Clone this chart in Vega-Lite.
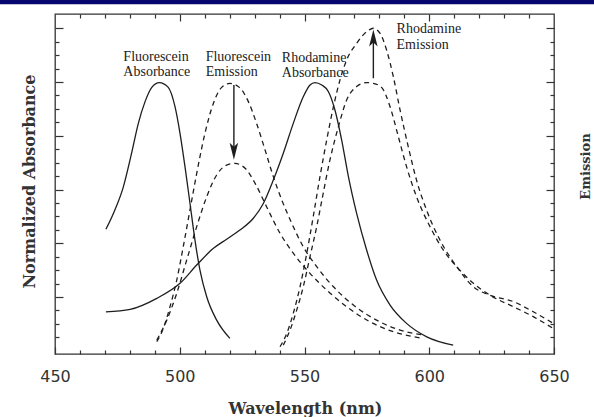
{
  "$schema": "https://vega.github.io/schema/vega-lite/v6.json",
  "width": 499,
  "height": 340,
  "autosize": {"type": "none"},
  "padding": {"left": 55, "top": 14, "right": 40, "bottom": 63},
  "background": "white",
  "config": {
    "view": {"stroke": "#333333", "strokeWidth": 1.3},
    "axis": {"grid": false, "domain": false, "tickColor": "#333333", "tickWidth": 1.2, "titleFont": "DejaVu Serif", "titleFontWeight": "bold", "titleColor": "#333333"}
  },
  "datasets": {
    "curves": [
      {"c": "FA", "s": "solid", "nm": 470.4, "v": 0.452},
      {"c": "FA", "s": "solid", "nm": 473.4, "v": 0.511},
      {"c": "FA", "s": "solid", "nm": 477.4, "v": 0.610},
      {"c": "FA", "s": "solid", "nm": 480.7, "v": 0.735},
      {"c": "FA", "s": "solid", "nm": 483.4, "v": 0.846},
      {"c": "FA", "s": "solid", "nm": 486.1, "v": 0.927},
      {"c": "FA", "s": "solid", "nm": 488.8, "v": 0.980},
      {"c": "FA", "s": "solid", "nm": 491.8, "v": 0.998},
      {"c": "FA", "s": "solid", "nm": 495.4, "v": 0.980},
      {"c": "FA", "s": "solid", "nm": 498.1, "v": 0.908},
      {"c": "FA", "s": "solid", "nm": 500.1, "v": 0.809},
      {"c": "FA", "s": "solid", "nm": 502.1, "v": 0.685},
      {"c": "FA", "s": "solid", "nm": 504.1, "v": 0.549},
      {"c": "FA", "s": "solid", "nm": 506.1, "v": 0.412},
      {"c": "FA", "s": "solid", "nm": 508.1, "v": 0.300},
      {"c": "FA", "s": "solid", "nm": 510.8, "v": 0.201},
      {"c": "FA", "s": "solid", "nm": 514.8, "v": 0.114},
      {"c": "FA", "s": "solid", "nm": 520.1, "v": 0.046},
      {"c": "RA", "s": "solid", "nm": 470.4, "v": 0.145},
      {"c": "RA", "s": "solid", "nm": 480.1, "v": 0.154},
      {"c": "RA", "s": "solid", "nm": 490.8, "v": 0.195},
      {"c": "RA", "s": "solid", "nm": 500.1, "v": 0.251},
      {"c": "RA", "s": "solid", "nm": 506.8, "v": 0.319},
      {"c": "RA", "s": "solid", "nm": 513.5, "v": 0.381},
      {"c": "RA", "s": "solid", "nm": 518.8, "v": 0.415},
      {"c": "RA", "s": "solid", "nm": 524.1, "v": 0.449},
      {"c": "RA", "s": "solid", "nm": 529.5, "v": 0.493},
      {"c": "RA", "s": "solid", "nm": 533.5, "v": 0.548},
      {"c": "RA", "s": "solid", "nm": 537.5, "v": 0.635},
      {"c": "RA", "s": "solid", "nm": 541.5, "v": 0.735},
      {"c": "RA", "s": "solid", "nm": 545.5, "v": 0.846},
      {"c": "RA", "s": "solid", "nm": 549.5, "v": 0.945},
      {"c": "RA", "s": "solid", "nm": 552.2, "v": 0.989},
      {"c": "RA", "s": "solid", "nm": 554.2, "v": 0.998},
      {"c": "RA", "s": "solid", "nm": 556.9, "v": 0.989},
      {"c": "RA", "s": "solid", "nm": 559.6, "v": 0.964},
      {"c": "RA", "s": "solid", "nm": 562.2, "v": 0.896},
      {"c": "RA", "s": "solid", "nm": 564.9, "v": 0.784},
      {"c": "RA", "s": "solid", "nm": 567.6, "v": 0.648},
      {"c": "RA", "s": "solid", "nm": 570.9, "v": 0.511},
      {"c": "RA", "s": "solid", "nm": 574.9, "v": 0.375},
      {"c": "RA", "s": "solid", "nm": 578.9, "v": 0.263},
      {"c": "RA", "s": "solid", "nm": 584.3, "v": 0.170},
      {"c": "RA", "s": "solid", "nm": 590.9, "v": 0.102},
      {"c": "RA", "s": "solid", "nm": 599.0, "v": 0.052},
      {"c": "RA", "s": "solid", "nm": 609.6, "v": 0.021},
      {"c": "FEhi", "s": "dash", "nm": 490.8, "v": 0.034},
      {"c": "FEhi", "s": "dash", "nm": 493.4, "v": 0.083},
      {"c": "FEhi", "s": "dash", "nm": 496.1, "v": 0.164},
      {"c": "FEhi", "s": "dash", "nm": 498.8, "v": 0.263},
      {"c": "FEhi", "s": "dash", "nm": 501.4, "v": 0.387},
      {"c": "FEhi", "s": "dash", "nm": 504.1, "v": 0.524},
      {"c": "FEhi", "s": "dash", "nm": 506.8, "v": 0.660},
      {"c": "FEhi", "s": "dash", "nm": 510.1, "v": 0.809},
      {"c": "FEhi", "s": "dash", "nm": 513.5, "v": 0.921},
      {"c": "FEhi", "s": "dash", "nm": 516.8, "v": 0.980},
      {"c": "FEhi", "s": "dash", "nm": 520.1, "v": 0.995},
      {"c": "FEhi", "s": "dash", "nm": 523.9, "v": 0.980},
      {"c": "FEhi", "s": "dash", "nm": 527.5, "v": 0.927},
      {"c": "FEhi", "s": "dash", "nm": 530.8, "v": 0.846},
      {"c": "FEhi", "s": "dash", "nm": 534.2, "v": 0.747},
      {"c": "FEhi", "s": "dash", "nm": 537.5, "v": 0.648},
      {"c": "FEhi", "s": "dash", "nm": 540.9, "v": 0.561},
      {"c": "FEhi", "s": "dash", "nm": 544.9, "v": 0.474},
      {"c": "FEhi", "s": "dash", "nm": 549.5, "v": 0.387},
      {"c": "FEhi", "s": "dash", "nm": 554.9, "v": 0.313},
      {"c": "FEhi", "s": "dash", "nm": 561.6, "v": 0.238},
      {"c": "FEhi", "s": "dash", "nm": 569.6, "v": 0.170},
      {"c": "FEhi", "s": "dash", "nm": 578.9, "v": 0.114},
      {"c": "FEhi", "s": "dash", "nm": 588.3, "v": 0.077},
      {"c": "FEhi", "s": "dash", "nm": 597.6, "v": 0.059},
      {"c": "FElo", "s": "dash", "nm": 490.8, "v": 0.040},
      {"c": "FElo", "s": "dash", "nm": 494.8, "v": 0.114},
      {"c": "FElo", "s": "dash", "nm": 498.8, "v": 0.214},
      {"c": "FElo", "s": "dash", "nm": 502.8, "v": 0.338},
      {"c": "FElo", "s": "dash", "nm": 506.8, "v": 0.462},
      {"c": "FElo", "s": "dash", "nm": 510.8, "v": 0.573},
      {"c": "FElo", "s": "dash", "nm": 514.8, "v": 0.654},
      {"c": "FElo", "s": "dash", "nm": 518.8, "v": 0.691},
      {"c": "FElo", "s": "dash", "nm": 522.1, "v": 0.697},
      {"c": "FElo", "s": "dash", "nm": 526.2, "v": 0.679},
      {"c": "FElo", "s": "dash", "nm": 530.2, "v": 0.623},
      {"c": "FElo", "s": "dash", "nm": 534.8, "v": 0.536},
      {"c": "FElo", "s": "dash", "nm": 540.2, "v": 0.437},
      {"c": "FElo", "s": "dash", "nm": 545.5, "v": 0.363},
      {"c": "FElo", "s": "dash", "nm": 552.2, "v": 0.288},
      {"c": "FElo", "s": "dash", "nm": 558.9, "v": 0.226},
      {"c": "FElo", "s": "dash", "nm": 566.9, "v": 0.164},
      {"c": "FElo", "s": "dash", "nm": 576.2, "v": 0.108},
      {"c": "FElo", "s": "dash", "nm": 585.6, "v": 0.071},
      {"c": "FElo", "s": "dash", "nm": 597.6, "v": 0.046},
      {"c": "RElo", "s": "dash", "nm": 541.5, "v": 0.021},
      {"c": "RElo", "s": "dash", "nm": 544.2, "v": 0.077},
      {"c": "RElo", "s": "dash", "nm": 546.9, "v": 0.152},
      {"c": "RElo", "s": "dash", "nm": 549.5, "v": 0.238},
      {"c": "RElo", "s": "dash", "nm": 552.2, "v": 0.350},
      {"c": "RElo", "s": "dash", "nm": 554.9, "v": 0.462},
      {"c": "RElo", "s": "dash", "nm": 557.5, "v": 0.586},
      {"c": "RElo", "s": "dash", "nm": 560.2, "v": 0.710},
      {"c": "RElo", "s": "dash", "nm": 563.6, "v": 0.834},
      {"c": "RElo", "s": "dash", "nm": 566.9, "v": 0.933},
      {"c": "RElo", "s": "dash", "nm": 570.9, "v": 0.983},
      {"c": "RElo", "s": "dash", "nm": 574.9, "v": 0.998},
      {"c": "RElo", "s": "dash", "nm": 577.6, "v": 0.995},
      {"c": "RElo", "s": "dash", "nm": 580.9, "v": 0.980},
      {"c": "RElo", "s": "dash", "nm": 584.3, "v": 0.908},
      {"c": "RElo", "s": "dash", "nm": 587.6, "v": 0.797},
      {"c": "RElo", "s": "dash", "nm": 590.9, "v": 0.685},
      {"c": "RElo", "s": "dash", "nm": 594.9, "v": 0.573},
      {"c": "RElo", "s": "dash", "nm": 600.3, "v": 0.462},
      {"c": "RElo", "s": "dash", "nm": 605.6, "v": 0.375},
      {"c": "RElo", "s": "dash", "nm": 611.0, "v": 0.313},
      {"c": "RElo", "s": "dash", "nm": 617.7, "v": 0.251},
      {"c": "RElo", "s": "dash", "nm": 624.3, "v": 0.207},
      {"c": "RElo", "s": "dash", "nm": 633.7, "v": 0.164},
      {"c": "RElo", "s": "dash", "nm": 641.7, "v": 0.127},
      {"c": "RElo", "s": "dash", "nm": 649.7, "v": 0.083},
      {"c": "REhi", "s": "dash", "nm": 540.2, "v": 0.015},
      {"c": "REhi", "s": "dash", "nm": 542.9, "v": 0.065},
      {"c": "REhi", "s": "dash", "nm": 545.5, "v": 0.139},
      {"c": "REhi", "s": "dash", "nm": 548.2, "v": 0.238},
      {"c": "REhi", "s": "dash", "nm": 550.9, "v": 0.362},
      {"c": "REhi", "s": "dash", "nm": 553.5, "v": 0.499},
      {"c": "REhi", "s": "dash", "nm": 556.2, "v": 0.648},
      {"c": "REhi", "s": "dash", "nm": 558.9, "v": 0.784},
      {"c": "REhi", "s": "dash", "nm": 561.6, "v": 0.908},
      {"c": "REhi", "s": "dash", "nm": 564.2, "v": 1.007},
      {"c": "REhi", "s": "dash", "nm": 566.9, "v": 1.082},
      {"c": "REhi", "s": "dash", "nm": 570.9, "v": 1.144},
      {"c": "REhi", "s": "dash", "nm": 574.9, "v": 1.187},
      {"c": "REhi", "s": "dash", "nm": 577.6, "v": 1.200},
      {"c": "REhi", "s": "dash", "nm": 580.3, "v": 1.181},
      {"c": "REhi", "s": "dash", "nm": 582.9, "v": 1.119},
      {"c": "REhi", "s": "dash", "nm": 585.6, "v": 1.020},
      {"c": "REhi", "s": "dash", "nm": 588.3, "v": 0.896},
      {"c": "REhi", "s": "dash", "nm": 591.6, "v": 0.759},
      {"c": "REhi", "s": "dash", "nm": 594.9, "v": 0.635},
      {"c": "REhi", "s": "dash", "nm": 598.9, "v": 0.524},
      {"c": "REhi", "s": "dash", "nm": 604.3, "v": 0.412},
      {"c": "REhi", "s": "dash", "nm": 611.0, "v": 0.313},
      {"c": "REhi", "s": "dash", "nm": 617.7, "v": 0.238},
      {"c": "REhi", "s": "dash", "nm": 624.3, "v": 0.207},
      {"c": "REhi", "s": "dash", "nm": 633.7, "v": 0.183},
      {"c": "REhi", "s": "dash", "nm": 641.7, "v": 0.145},
      {"c": "REhi", "s": "dash", "nm": 649.7, "v": 0.102}
    ],
    "arrows": [
      {"nm": 521.7, "from": 0.989, "to": 0.742, "dir": "down"},
      {"nm": 577.6, "from": 1.014, "to": 1.164, "dir": "up"}
    ],
    "labels": [
      {"t": "Fluorescein", "nm": 477.4, "v": 1.093},
      {"t": "Absorbance", "nm": 477.4, "v": 1.036},
      {"t": "Fluorescein", "nm": 510.4, "v": 1.093},
      {"t": "Emission", "nm": 510.4, "v": 1.036},
      {"t": "Rhodamine", "nm": 540.9, "v": 1.090},
      {"t": "Absorbance", "nm": 540.9, "v": 1.033},
      {"t": "Rhodamine", "nm": 586.9, "v": 1.196},
      {"t": "Emission", "nm": 586.9, "v": 1.139}
    ]
  },
  "resolve": {"axis": {"x": "independent", "y": "independent"}},
  "layer": [
    {
      "data": {"name": "curves"},
      "transform": [{"filter": "datum.s === 'solid'"}],
      "mark": {"type": "line", "interpolate": "monotone", "color": "#1e1e1e", "strokeWidth": 1.3},
      "encoding": {
        "detail": {"field": "c"},
        "x": {"field": "nm", "type": "quantitative", "scale": {"domain": [450, 650], "nice": false, "zero": false},
          "axis": {"orient": "bottom", "values": [450, 500, 550, 600, 650], "tickSize": -7, "labelFont": "DejaVu Sans", "labelFontSize": 16, "labelColor": "#333333", "labelPadding": 21, "labelFlush": false,
            "title": "Wavelength  (nm)", "titleFontSize": 16, "titleX": 250, "titleY": 59, "titleBaseline": "alphabetic", "titleAnchor": "middle"}},
        "y": {"field": "v", "type": "quantitative", "scale": {"domain": [-0.012, 1.253], "nice": false, "zero": false},
          "axis": {"orient": "left", "values": [0.2, 0.4, 0.6, 0.8, 1.0, 1.2], "tickSize": -8, "labels": false,
            "title": "Normalized  Absorbance", "titleFontSize": 16, "titleAngle": 270, "titleX": -26, "titleY": 167, "titleBaseline": "middle", "titleAlign": "center"}}
      }
    },
    {
      "data": {"name": "curves"},
      "transform": [{"filter": "datum.s === 'dash'"}],
      "mark": {"type": "line", "interpolate": "monotone", "color": "#1e1e1e", "strokeWidth": 1.3, "strokeDash": [5, 4]},
      "encoding": {
        "detail": {"field": "c"},
        "x": {"field": "nm", "type": "quantitative", "scale": {"domain": [450, 650], "nice": false, "zero": false},
          "axis": {"orient": "bottom", "values": [460, 470, 480, 490, 510, 520, 530, 540, 560, 570, 580, 590, 610, 620, 630, 640], "tickSize": -4, "labels": false, "title": null}},
        "y": {"field": "v", "type": "quantitative", "scale": {"domain": [-0.012, 1.253], "nice": false, "zero": false},
          "axis": {"orient": "left", "values": [0.05, 0.1, 0.15, 0.25, 0.3, 0.35, 0.45, 0.5, 0.55, 0.65, 0.7, 0.75, 0.85, 0.9, 0.95, 1.05, 1.1, 1.15], "tickSize": -4, "labels": false, "title": null}}
      }
    },
    {
      "data": {"name": "arrows"},
      "mark": {"type": "rule", "color": "#1e1e1e", "strokeWidth": 1.4},
      "encoding": {
        "x": {"field": "nm", "type": "quantitative", "scale": {"domain": [450, 650], "nice": false, "zero": false},
          "axis": {"orient": "top", "values": [500, 550, 600], "tickSize": -7, "labels": false, "title": null}},
        "y": {"field": "from", "type": "quantitative", "scale": {"domain": [-0.012, 1.253], "nice": false, "zero": false},
          "axis": {"orient": "right", "values": [0.2, 0.4, 0.6, 0.8, 1.0, 1.2], "tickSize": -8, "labels": false,
            "title": "Emission", "titleFontSize": 13, "titleAngle": 270, "titleX": 31, "titleY": 152, "titleBaseline": "middle", "titleAlign": "center"}},
        "y2": {"field": "to"}
      }
    },
    {
      "data": {"name": "arrows"},
      "mark": {"type": "point", "filled": true, "color": "#1e1e1e", "opacity": 1, "size": 289},
      "encoding": {
        "x": {"field": "nm", "type": "quantitative", "scale": {"domain": [450, 650], "nice": false, "zero": false},
          "axis": {"orient": "top", "values": [460, 470, 480, 490, 510, 520, 530, 540, 560, 570, 580, 590, 610, 620, 630, 640], "tickSize": -4, "labels": false, "title": null}},
        "y": {"field": "to", "type": "quantitative", "scale": {"domain": [-0.012, 1.253], "nice": false, "zero": false},
          "axis": {"orient": "right", "values": [0.05, 0.1, 0.15, 0.25, 0.3, 0.35, 0.45, 0.5, 0.55, 0.65, 0.7, 0.75, 0.85, 0.9, 0.95, 1.05, 1.1, 1.15], "tickSize": -4, "labels": false, "title": null}},
        "shape": {"field": "dir", "type": "nominal", "scale": {"domain": ["down", "up"], "range": ["M0,1L-0.5,-1L0,-0.55L0.5,-1Z", "M0,-1L-0.5,1L0,0.55L0.5,1Z"]}, "legend": null}
      }
    },
    {
      "data": {"name": "labels"},
      "mark": {"type": "text", "font": "Liberation Serif", "fontSize": 14, "color": "#222222", "align": "left", "baseline": "middle"},
      "encoding": {
        "x": {"field": "nm", "type": "quantitative", "scale": {"domain": [450, 650], "nice": false, "zero": false}, "axis": null},
        "y": {"field": "v", "type": "quantitative", "scale": {"domain": [-0.012, 1.253], "nice": false, "zero": false}, "axis": null},
        "text": {"field": "t"}
      }
    },
    {
      "data": {"values": [{}]},
      "mark": {"type": "rect", "color": "#06066e", "clip": false},
      "encoding": {
        "x": {"datum": 420, "type": "quantitative", "scale": {"domain": [450, 650], "nice": false, "zero": false}, "axis": null},
        "x2": {"datum": 690},
        "y": {"datum": 1.289, "type": "quantitative", "scale": {"domain": [-0.012, 1.253], "nice": false, "zero": false}, "axis": null},
        "y2": {"datum": 1.33}
      }
    }
  ]
}
